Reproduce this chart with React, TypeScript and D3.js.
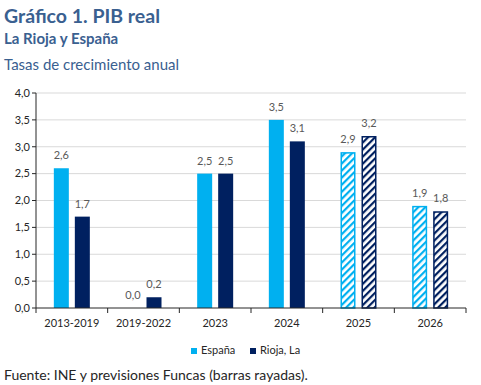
import * as d3 from "d3";

const categories = ["2013-2019", "2019-2022", "2023", "2024", "2025", "2026"];
const espana = [2.6, 0.0, 2.5, 3.5, 2.9, 1.9];
const rioja = [1.7, 0.2, 2.5, 3.1, 3.2, 1.8];
// which categories are forecasts (hatched bars)
const forecast = [false, false, false, false, true, true];
const yTicks = [0, 0.5, 1, 1.5, 2, 2.5, 3, 3.5, 4];

const W = 481;
const H = 385;
const MARGIN = { top: 93, right: 15, bottom: 77, left: 36 };
const FONT = "Lato, 'Open Sans', sans-serif";
const C_ES = "#00B0F0";
const C_RI = "#002060";
const C_TITLE = "#3A6090";

const fmt = (v: number) => v.toFixed(1).replace(".", ",");

export default function App() {
  const boundsWidth = W - MARGIN.left - MARGIN.right;
  const boundsHeight = H - MARGIN.top - MARGIN.bottom;

  const xScale = d3.scaleBand().domain(categories).range([0, boundsWidth]);
  const yScale = d3.scaleLinear().domain([0, 4]).range([boundsHeight, 0]);

  const barW = 15;
  const gap = 6;

  const bars = categories.map((c, i) => {
    const center = (xScale(c) ?? 0) + xScale.bandwidth() / 2;
    const series = [
      { v: espana[i], color: C_ES, x: center - gap / 2 - barW, pat: "hatchEs" },
      { v: rioja[i], color: C_RI, x: center + gap / 2, pat: "hatchRi" },
    ];
    return (
      <g key={c}>
        {series.map((s, j) => {
          const y = yScale(s.v);
          const h = boundsHeight - y;
          return (
            <g key={j}>
              {h > 0 &&
                (forecast[i] ? (
                  <rect
                    x={s.x + 0.75}
                    y={y + 0.75}
                    width={barW - 1.5}
                    height={h - 0.75}
                    fill={`url(#${s.pat})`}
                    stroke={s.color}
                    strokeWidth={1.5}
                  />
                ) : (
                  <rect x={s.x} y={y} width={barW} height={h} fill={s.color} />
                ))}
              <text
                x={s.x + barW / 2}
                y={y - 9}
                textAnchor="middle"
                fontSize={11}
                fill="#595959"
              >
                {fmt(s.v)}
              </text>
            </g>
          );
        })}
      </g>
    );
  });

  return (
    <div style={{ position: "fixed", left: 0, top: 0 }}>
      <svg width={W} height={H} style={{ display: "block", fontFamily: FONT }}>
        <defs>
          <pattern id="hatchEs" width={5} height={5} patternUnits="userSpaceOnUse" patternTransform="rotate(45)">
            <rect width={5} height={5} fill="white" />
            <rect width={2.2} height={5} fill={C_ES} />
          </pattern>
          <pattern id="hatchRi" width={5} height={5} patternUnits="userSpaceOnUse" patternTransform="rotate(45)">
            <rect width={5} height={5} fill="white" />
            <rect width={2.2} height={5} fill={C_RI} />
          </pattern>
        </defs>
        <rect width={W} height={H} fill="white" />

        <text x={4} y={23} fontSize={19.5} fontWeight="bold" fill={C_TITLE}>
          Gráfico 1. PIB real
        </text>
        <text x={4} y={44} fontSize={15} fontWeight="bold" fill={C_TITLE}>
          La Rioja y España
        </text>
        <text x={4} y={70} fontSize={15} fill={C_TITLE}>
          Tasas de crecimiento anual
        </text>

        <g transform={`translate(${MARGIN.left},${MARGIN.top})`}>
          {yTicks.map((t) => (
            <g key={t} transform={`translate(0,${yScale(t)})`}>
              {t > 0 && <line x1={0} x2={boundsWidth} stroke="#D9D9D9" strokeWidth={1} />}
              <line x1={-4} x2={0} stroke="#262626" />
              <text x={-6} dy="0.35em" textAnchor="end" fontSize={11} fill="#262626">
                {fmt(t)}
              </text>
            </g>
          ))}
          {bars}
          <line x1={0} x2={0} y1={0} y2={boundsHeight} stroke="#262626" />
          <line x1={0} x2={boundsWidth} y1={boundsHeight} y2={boundsHeight} stroke="#262626" />
          {categories.map((c, i) => (
            <g key={c}>
              <line
                x1={xScale(c) ?? 0}
                x2={xScale(c) ?? 0}
                y1={boundsHeight}
                y2={boundsHeight + 5}
                stroke="#262626"
              />
              {i === categories.length - 1 && (
                <line x1={boundsWidth} x2={boundsWidth} y1={boundsHeight} y2={boundsHeight + 5} stroke="#262626" />
              )}
              <text
                x={(xScale(c) ?? 0) + xScale.bandwidth() / 2}
                y={boundsHeight + 19}
                textAnchor="middle"
                fontSize={11}
                fill="#262626"
              >
                {c}
              </text>
            </g>
          ))}
        </g>

        <g transform="translate(191,348)">
          <rect x={0} y={0} width={6} height={6} fill={C_ES} />
          <text x={10} y={6} fontSize={11} fill="#262626">España</text>
          <rect x={59} y={0} width={6} height={6} fill={C_RI} />
          <text x={69} y={6} fontSize={11} fill="#262626">Rioja, La</text>
        </g>

        <text x={4} y={380} fontSize={14} fill="#262626">
          Fuente: INE y previsiones Funcas (barras rayadas).
        </text>
      </svg>
    </div>
  );
}
